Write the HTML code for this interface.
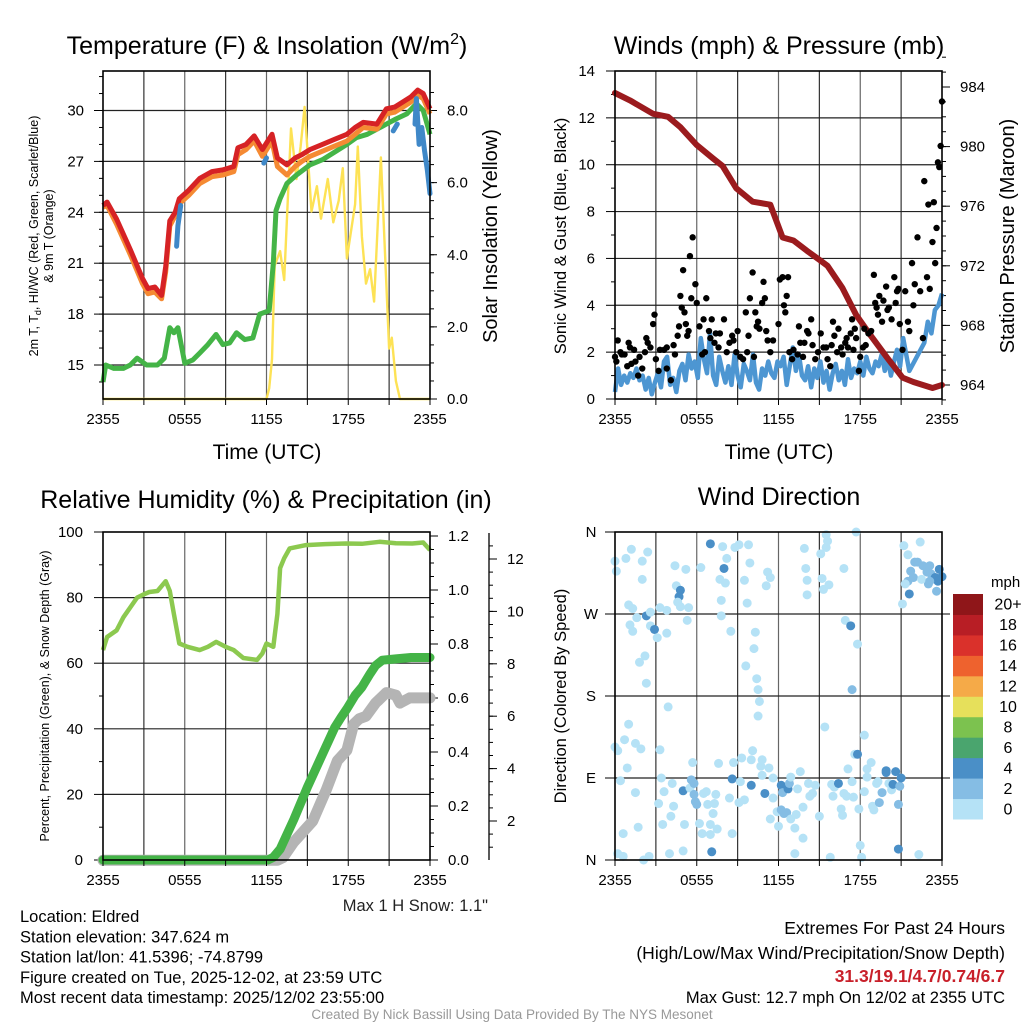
<!DOCTYPE html>
<html><head><meta charset="utf-8"><style>
html,body{margin:0;padding:0;background:#fff;}
svg{display:block;font-family:"Liberation Sans",sans-serif;}
</style></head><body>
<svg id="c" width="1024" height="1024" viewBox="0 0 1024 1024"></svg>
<script>
// ---------- DATA ----------
const tempHours=[0,0.3,1,2,2.9,3.3,3.8,4.3,4.6,4.9,5.3,5.6,6.3,7.1,8,8.8,9.6,9.9,10.5,11.1,11.7,12.4,12.8,13.5,14.1,14.6,15.2,16.1,17,17.9,18.5,19.1,20.1,20.8,21.4,22,22.6,23.1,23.5,24];
const tempRed=[24.4,24.6,23.6,21.8,20.1,19.5,19.6,19.1,20.8,23.5,24.0,24.8,25.3,26.0,26.4,26.5,26.7,27.8,28.0,28.5,27.7,28.6,27.2,26.8,27.2,27.4,27.7,28.0,28.3,28.6,29.0,29.3,29.2,30.1,30.2,30.5,30.8,31.2,31.0,30.1];
const tempOrange=[24.3,24.4,23.3,21.5,19.8,19.2,19.3,18.9,20.5,23.2,23.8,24.5,25.0,25.7,26.1,26.2,26.4,27.4,27.7,28.2,27.3,28.2,26.7,26.2,26.7,27.0,27.3,27.6,27.9,28.2,28.6,29.0,28.9,29.8,29.9,30.2,30.5,30.9,30.7,29.8];
const dewHours=[0,0.2,0.8,1.5,2,2.5,3.2,4,4.5,4.9,5.2,5.5,6,6.6,7.1,7.7,8.3,8.8,9.3,9.8,10.4,11,11.5,12.2,12.5,12.7,13,13.5,14.2,15.2,16.1,17.1,17.9,18.6,19.4,20.1,20.8,21.5,22.3,23,23.5,24];
const dewGreen=[14.0,15.0,14.8,14.8,15.0,15.4,15.0,15.0,15.4,17.2,16.9,17.2,15.1,15.3,15.7,16.2,16.8,16.2,16.3,16.9,16.5,16.6,18.0,18.2,21.0,24.1,24.8,25.7,26.2,26.8,27.1,27.6,28.0,28.4,28.6,28.9,29.2,29.5,29.8,30.4,30.0,28.6];
const hiwcSegs=[[[5.4,22.0],[5.5,23.2],[5.7,24.4]],[[11.8,26.9],[12.0,27.2]],[[21.3,28.8],[21.6,29.2]],[[22.9,29.2],[23.0,30.7],[23.2,28.0],[23.4,29.0],[23.6,27.6],[23.8,26.5],[24.0,25.1]]];
const solHours=[0,12,12.2,12.4,12.6,13,13.3,13.8,14.2,14.5,14.8,15.3,15.7,16,16.5,16.9,17.3,17.6,17.9,18.5,18.7,19.0,19.3,19.6,19.9,20.4,21,21.2,21.5,21.8,24];
const solar=[0,0,0.3,1.1,3.7,4.1,3.3,7.5,6.1,7.0,8.1,5.2,5.9,5.0,6.1,4.9,5.5,6.4,3.9,5.4,7.0,4.5,3.2,3.6,2.7,6.7,1.4,1.7,0.5,0,0];

const presHours=[0,1.1,2.8,3.9,4.8,6,7.2,7.9,8.9,10.1,11.4,12.3,13.1,14.1,15,15.6,16.7,17.7,18.7,20,21.1,21.9,23.3,24];
const pressure=[983.6,983.1,982.2,982.0,981.3,980.1,979.2,978.7,977.2,976.3,976.1,973.9,973.7,973.0,972.4,972.0,970.5,968.7,967.4,965.8,964.5,964.2,963.8,964.0];
// quarter-hour sustained wind
const windSust=[0.3,1.3,0.6,1.0,0.7,1.1,0.9,1.3,0.8,1.0,0.4,0.9,0.2,0.7,1.1,0.5,1.6,1.8,0.6,0.9,0.3,1.2,1.5,0.8,1.9,1.3,1.6,0.9,2.6,1.7,1.1,2.8,1.0,0.6,1.8,1.2,0.7,1.4,0.6,1.9,1.0,0.5,1.5,1.2,0.8,1.9,0.7,0.4,1.3,1.0,1.6,1.1,0.9,1.6,1.4,1.8,0.6,1.4,2.2,1.2,1.9,1.0,0.8,1.4,0.5,1.3,0.9,1.6,0.7,1.2,0.4,1.1,1.5,0.8,1.2,0.6,1.7,0.9,1.3,1.1,1.6,1.0,1.8,1.3,1.1,1.6,1.4,1.9,1.2,1.7,1.0,1.6,2.1,1.4,2.6,1.9,1.2];
const windSust2=[2.4,3.3,2.8,3.8,4.0,4.5];
const gustHours=[0,0.2,0.5,0.7,1.0,1.1,1.2,1.5,1.7,2.0,2.3,2.4,2.6,2.8,2.9,3.2,3.3,3.8,3.8,4.1,4.4,4.6,4.8,4.9,5.0,5.1,5.2,5.3,5.5,5.6,5.7,5.9,6.0,6.2,6.4,6.5,6.7,6.9,7.1,7.3,7.4,7.7,8.0,8.2,8.4,8.6,8.7,8.9,9.2,9.4,9.6,9.8,9.9,10.1,10.2,10.3,10.5,10.6,10.8,10.9,11.0,11.1,11.2,11.6,12.0,12.1,12.3,12.4,12.5,12.6,12.7,12.8,13.1,13.4,13.5,13.6,13.8,14.1,14.2,14.4,14.5,14.7,15.1,15.3,15.5,15.6,15.8,16.0,16.1,16.4,16.6,16.7,16.9,17.1,17.3,17.4,17.6,17.7,17.9,18.0,18.2,18.4,18.6,18.8,19.0,19.1,19.3,19.4,19.6,19.7,19.9,20.1,20.3,20.5,20.6,20.8,20.9,21.1,21.3,21.5,21.6,21.8,22.0,22.2,22.4,22.6,22.7,22.9,23.0,23.1,23.3,23.4,23.5,23.6,23.7,23.8,23.9,24.0,0.1,0.4,0.9,1.4,1.8,2.2,3.0,3.6,4.3,4.7,5.4,6.6,7.0,7.6,9.0,9.7,10.4,11.4,13.0,13.9,14.9,15.9,16.3,17.0,17.5,18.3,19.2,20.0,20.7,21.9];
const gusts=[1.8,2.5,1.9,1.9,2.4,2.2,1.5,1.6,1.0,1.3,2.6,2.4,2.2,3.2,3.6,1.2,2.1,2.2,1.3,0.8,1.9,2.7,4.4,3.9,5.5,3.7,3.2,2.7,6.1,4.3,6.9,4.9,4.1,3.1,1.9,3.4,4.3,2.9,3.4,2.4,2.8,2.8,3.4,2.0,2.4,2.7,2.5,2.0,1.8,1.7,3.7,2.7,4.3,5.4,1.8,3.7,3.3,3.0,4.1,5.0,4.3,2.9,2.5,2.5,3.2,5.1,5.2,4.0,3.7,4.4,5.2,2.0,2.1,1.9,3.1,2.4,1.8,2.9,2.8,3.4,2.3,1.7,2.8,2.2,2.2,1.7,1.4,3.3,2.7,3.0,2.2,1.9,2.4,2.2,2.8,3.4,3.0,2.6,1.2,1.8,2.2,2.3,2.8,2.9,5.3,4.1,3.6,4.4,3.3,4.2,4.8,3.9,3.4,5.2,4.1,4.7,3.2,2.1,4.6,3.3,2.9,5.8,4.9,6.9,4.6,2.6,9.3,5.2,8.3,4.7,6.7,8.4,5.8,7.3,10.1,9.9,10.8,12.7,1.6,2.0,1.4,2.1,1.8,2.0,1.7,2.1,2.3,3.1,2.9,2.0,2.6,2.2,2.9,2.0,3.1,2.0,1.7,2.4,2.0,2.3,2.0,2.6,2.1,3.0,3.9,3.8,4.6,4.0];

const rhHours=[0,0.3,1,1.5,2,2.5,3,3.4,4,4.6,4.9,5.2,5.6,6.2,7.1,7.7,8.3,9,9.6,10.3,11.3,11.7,12,12.5,12.8,13,13.3,13.7,14.9,16.3,17.8,19,20.3,21.5,22.7,23.5,24];
const rh=[64,68,70,74,77,80,81,81.7,82,85,82,75,66,65,64,65,66.5,65,64,61.6,61,63,66,65,75,89,92,95,96,96.3,96.5,96.4,97,96.6,96.5,96.8,94.5];
const precHours=[0,12.1,12.5,13,14,15,16,17,17.5,17.9,18.5,19,19.6,20,20.5,21.5,22.6,24];
const precip=[0,0,0.01,0.04,0.15,0.27,0.38,0.49,0.53,0.56,0.61,0.64,0.69,0.72,0.74,0.745,0.75,0.75];
const snowHours=[0,12.8,13.2,14,15.4,16.4,17.2,17.9,18.4,18.8,19.3,20,20.8,21.5,21.8,22.5,24];
const snow=[0.5,0.5,0.6,1.2,2.0,3.2,4.3,4.7,5.7,5.9,6.0,6.5,6.9,6.8,6.5,6.7,6.7];

const dirHours=[0,0.1,0.8,1.2,2.0,2.0,2.4,1.0,1.3,1.6,1.1,1.3,2.3,2.6,2.6,2.9,3.1,2.2,1.8,2.3,3.3,3.8,3.8,4.4,4.5,4.8,4.7,4.6,4.8,5.4,5.3,5.2,6.3,7.0,7.9,8.8,9.1,9.8,8.2,8.0,7.7,8.1,7.8,7.8,8.5,9.9,9.5,9.7,10.3,10.2,9.6,10.4,10.5,10.6,10.5,11.2,11.4,11.1,13.9,14.0,14.1,14.1,15.1,15.5,15.5,15.6,15.2,15.3,15.7,16.8,17.7,16.9,17.3,17.8,17.4,15.4,18.3,17.6,
21.2,22.4,21.5,22.0,22.2,21.7,21.9,21.5,21.3,21.6,21.1,22.6,22.9,23.1,23.2,23.0,23.5,23.7,23.8,24.0,23.6,22.5,23.1,
0,0.2,0.4,0.6,0.2,0.6,0.9,0.7,1.0,1.5,1.5,1.9,1.7,2.1,2.5,3.3,3.4,3.9,3.2,3.5,3.6,4.1,4.3,4.0,4.2,5.0,5.0,5.1,5.5,5.7,5.6,5.8,5.8,5.9,6.0,6.2,6.4,6.5,6.7,6.8,7.0,7.0,7.1,7.3,7.2,7.5,7.4,7.6,8.4,8.6,8.6,8.7,9.3,9.2,9.1,9.5,10.0,10.0,10.1,10.7,10.8,10.8,11.0,11.3,11.6,11.6,11.9,11.4,12.0,12.2,12.3,12.7,12.8,12.2,12.4,12.6,12.9,12.9,13.2,13.2,13.3,13.4,13.6,13.8,13.8,14.2,14.3,14.5,14.7,15.0,15.8,15.9,16.1,16.0,16.4,16.6,16.7,16.8,17.0,17.1,17.4,17.5,17.8,17.9,18.0,18.1,18.3,18.5,18.8,18.5,18.9,19.0,19.2,19.3,19.6,19.4,19.9,19.9,20.1,20.3,20.4,20.6,20.9,21.0,20.8,20.8,22.3];
const dirDeg=[328,317,331,341,328,308,338,280,276,266,258,251,268,272,257,253,244,224,217,194,277,274,249,323,301,296,289,283,278,277,263,319,321,347,344,343,346,346,331,320,308,304,285,268,251,326,307,282,250,232,213,199,187,174,158,316,310,301,342,320,307,291,336,343,357,350,309,297,302,320,360,263,257,237,187,146,137,116,
345,349,335,327,327,317,310,306,303,292,281,323,316,323,314,303,310,306,319,311,295,308,306,
124,120,87,29,7,4,101,132,149,74,128,122,36,0,4,121,90,168,62,39,75,48,59,7,84,76,10,39,79,107,88,84,72,64,61,40,29,73,75,61,39,28,9,62,51,34,72,106,68,29,89,107,112,86,63,66,82,110,120,103,110,93,73,101,90,68,53,45,37,82,74,78,84,55,51,52,91,45,35,7,50,78,97,58,24,84,70,73,82,48,3,83,80,70,84,56,49,73,70,100,86,69,116,56,16,3,75,91,107,100,59,55,84,86,74,63,98,96,84,77,83,97,81,90,61,12,6,91];
const dirSpeed=[1,1,1,1,1,1,1,1,1,1,1,1,4.2,1,1,4.2,1,1,1,1,1,1,1,1,1,4.2,4.2,1,1,1,1,1,1,4.2,1,1,1,1,1,4.2,1,1,1,1,1,1,1,1,1,1,1,1,1,1,1,1,1,1,1,1,1,1,1,1,1,1,1,1,1,1,1,1,4.2,1,3,1,1,1,
1,1,1,3,3,3,3,3,1,4.2,1,3,3,3,3,3,4.2,4.2,4.2,4.2,3,1,3,
1,1,1,1,1,1,1,1,1,1,1,1,1,1,1,1,1,1,1,1,1,1,1,1,1,4.2,1,1,1,1,3,3,3,3,3,1,1,1,1,1,1,1,4.2,1,1,1,1,1,1,1,4.2,1,1,1,1,1,4.2,1,1,1,1,1,4.2,1,1,1,1,1,1,4.2,3,4.2,3,3,3,3,1,1,1,1,1,1,1,1,1,1,1,1,1,1,1,1,1,1,4.2,1,1,1,1,1,1,1,4.2,1,1,1,1,1,1,1,1,1,1,1,3,3,4.2,4.2,1,1,4.2,4.2,3,4.2,3,4.2,1,1,1,1];
const cbLabels=["0","2","4","6","8","10","12","14","16","18","20+"];
const cbColors=["#b5e2f6","#85bde4","#4a8fc7","#4aa56e","#7cc24f","#e6e05b","#f5aa48","#ee622e","#da312b","#b81e25","#8f1619"];

// ---------- HELPERS ----------
const NS="http://www.w3.org/2000/svg";
const svg=document.getElementById('c');
function el(tag,attrs,parent,text){const e=document.createElementNS(NS,tag);for(const k in attrs)e.setAttribute(k,attrs[k]);if(text!==undefined)e.textContent=text;(parent||svg).appendChild(e);return e;}
function lin(d0,d1,r0,r1){return v=>r0+(v-d0)*(r1-r0)/(d1-d0);}
function pathD(xs,ys,fx,fy){return xs.map((h,i)=>(i?'L':'M')+fx(h).toFixed(1)+' '+fy(ys[i]).toFixed(1)).join(' ');}
const xTickLbl=["2355","0555","1155","1755","2355"];
function spd2col(s){let i=Math.min(10,Math.floor(s/2));return cbColors[i];}
const TF=15;

function panelFrame(name,x0,x1,y0,y1,hGrid,fy){
  const g=el('g',{},svg);
  
  
  for(let k=1;k<8;k++){const x=x0+(x1-x0)*k/8;el('line',{x1:x,x2:x,y1:y0,y2:y1,stroke:k%2?'#333':'#666','stroke-width':1.2},g);}
  hGrid.forEach(v=>{const y=fy(v);el('line',{x1:x0,x2:x1,y1:y,y2:y,stroke:'#222','stroke-width':1.2},g);});
  return g;
}
function frameBox(name,x0,x1,y0,y1){
  const r=el('rect',{x:x0,y:y0,width:x1-x0,height:y1-y0,fill:'none',stroke:'#000','stroke-width':1.6});
  
  
}
function xAxis(name,x0,x1,y1){
  const g=el('g',{},svg);
  
  
  for(let k=0;k<=8;k++){const x=x0+(x1-x0)*k/8;el('line',{x1:x,x2:x,y1:y1,y2:y1+6,stroke:'#000'},g);}
  xTickLbl.forEach((t,k)=>{const x=x0+(x1-x0)*k/4;el('text',{x:x,y:y1+25,'font-size':TF,'text-anchor':'middle'},g,t);});
}
function title(name,x,y,txt,size){const t=el('text',{x:x,y:y,'font-size':size||25,'text-anchor':'middle'},svg,txt);return t;}
function vtitle(name,x,y,txt,size){const t=el('text',{x:x,y:y,'font-size':size,'text-anchor':'middle',transform:`rotate(-90 ${x} ${y})`},svg,txt);return t;}

// ---------- PANEL 1 ----------
{
const x0=103,x1=430,y0=71,y1=399;
const fx=lin(0,24,x0,x1), fy=lin(15,30,365,110.5), fs=lin(0,8,399,110.5);
panelFrame('temp-panel',x0,x1,y0,y1,[15,18,21,24,27,30],fy);
const gl=el('g',{});
[15,18,21,24,27,30].forEach(v=>{el('line',{x1:x0-9,x2:x0,y1:fy(v),y2:fy(v),stroke:'#000'},gl);el('text',{x:x0-19,y:fy(v)+5,'font-size':TF,'text-anchor':'end'},gl,String(v));});
for(let v=14;v<=32;v++){el('line',{x1:x0-4,x2:x0,y1:fy(v),y2:fy(v),stroke:'#000'},gl);}
const gr=el('g',{});
[0,2,4,6,8].forEach(v=>{el('line',{x1:x1,x2:x1+7,y1:fs(v),y2:fs(v),stroke:'#000'},gr);el('text',{x:x1+17,y:fs(v)+5,'font-size':TF},gr,v.toFixed(1));});
for(let v=0.5;v<8.6;v+=0.5){el('line',{x1:x1,x2:x1+4,y1:fs(v),y2:fs(v),stroke:'#000'},gr);}
const sol=el('path',{d:pathD(solHours,solar,fx,fs),fill:'none',stroke:'#fde255','stroke-width':2.4,'stroke-linejoin':'round'});

const dg=el('path',{d:pathD(dewHours,dewGreen,fx,fy),fill:'none',stroke:'#44b447','stroke-width':5,'stroke-linejoin':'round'});

const or=el('path',{d:pathD(tempHours,tempOrange,fx,fy),fill:'none',stroke:'#f58a33','stroke-width':5,'stroke-linejoin':'round'});

const rd=el('path',{d:pathD(tempHours,tempRed,fx,fy),fill:'none',stroke:'#d62225','stroke-width':5,'stroke-linejoin':'round'});

hiwcSegs.forEach(seg=>{const p=el('path',{d:pathD(seg.map(s=>s[0]),seg.map(s=>s[1]),fx,fy),fill:'none',stroke:'#3f88c8','stroke-width':5,'stroke-linejoin':'round','stroke-linecap':'round'});});
frameBox('temp-panel',x0,x1,y0,y1);xAxis('temp-panel',x0,x1,y1);
const t=title('temp-panel-title',267,54,'Temperature (F) & Insolation (W/m');el('tspan',{dy:-10,'font-size':16},t,'2');el('tspan',{dy:10},t,')');
title('temp-x-axis-title',267,459,'Time (UTC)',21);
const yl=el('text',{x:38,y:236,'font-size':12.5,'text-anchor':'middle',transform:'rotate(-90 38 236)'});

yl.appendChild(document.createTextNode('2m T, T'));el('tspan',{dy:3,'font-size':9},yl,'d');el('tspan',{dy:-3},yl,', HI/WC (Red, Green, Scarlet/Blue)');
vtitle('temp-y-axis-title-2',53,236,'& 9m T (Orange)',12.5);
vtitle('insolation-axis-title',497,236,'Solar Insolation (Yellow)',20);
}
// ---------- PANEL 2 ----------
{
const x0=615,x1=942,y0=71,y1=399;
const fx=lin(0,24,x0,x1), fy=lin(0,14,399,71), fp=lin(964,984,385,87);
panelFrame('wind-panel',x0,x1,y0,y1,[2,4,6,8,10,12],fy);
const gl=el('g',{});
[0,2,4,6,8,10,12,14].forEach(v=>{el('line',{x1:x0-9,x2:x0,y1:fy(v),y2:fy(v),stroke:'#000'},gl);el('text',{x:x0-20,y:fy(v)+5,'font-size':TF,'text-anchor':'end'},gl,String(v));});
for(let v=1;v<14;v+=2){el('line',{x1:x0-4,x2:x0,y1:fy(v),y2:fy(v),stroke:'#000'},gl);}
const gr=el('g',{});
[964,968,972,976,980,984].forEach(v=>{el('line',{x1:x1,x2:x1+8,y1:fp(v),y2:fp(v),stroke:'#000'},gr);el('text',{x:x1+18,y:fp(v)+5,'font-size':TF},gr,String(v));});
for(let v=963;v<=986;v++){el('line',{x1:x1,x2:x1+4,y1:fp(v),y2:fp(v),stroke:'#000'},gr);}
const wh=windSust.map((v,i)=>i*0.225);
const wh2=windSust2.map((v,i)=>22.7+i*0.26);
const allH=wh.concat(wh2), allW=windSust.concat(windSust2);
const ws=el('path',{d:pathD(allH,allW,fx,fy),fill:'none',stroke:'#4d96d2','stroke-width':4.5,'stroke-linejoin':'round'});

const pl=el('path',{d:pathD(presHours,pressure,fx,fp),fill:'none',stroke:'#9b1b1e','stroke-width':6,'stroke-linejoin':'round','stroke-linecap':'round'});

const gg=el('g',{});
gustHours.forEach((h,i)=>{const c=el('circle',{cx:fx(h),cy:fy(gusts[i]),r:3.2,fill:'#000'},gg);});
frameBox('wind-panel',x0,x1,y0,y1);xAxis('wind-panel',x0,x1,y1);
title('wind-panel-title',779,54,'Winds (mph) & Pressure (mb)');
title('wind-x-axis-title',779,459,'Time (UTC)',21);
vtitle('wind-y-axis-title',566,236,'Sonic Wind & Gust (Blue, Black)',16.5);
vtitle('pressure-axis-title',1014,236,'Station Pressure (Maroon)',20);
}
// ---------- PANEL 3 ----------
{
const x0=103,x1=430,y0=532,y1=860;
const fx=lin(0,24,x0,x1), fy=lin(0,100,860,532), fp=lin(0,1.2,860,536), fsn=lin(2,12,821,559);
panelFrame('rh-panel',x0,x1,y0,y1,[20,40,60,80],fy);
const gl=el('g',{});
[0,20,40,60,80,100].forEach(v=>{el('line',{x1:x0-9,x2:x0,y1:fy(v),y2:fy(v),stroke:'#000'},gl);el('text',{x:x0-20,y:fy(v)+5,'font-size':TF,'text-anchor':'end'},gl,String(v));});
for(let v=10;v<100;v+=20){el('line',{x1:x0-4,x2:x0,y1:fy(v),y2:fy(v),stroke:'#000'},gl);}
const gr=el('g',{});
[0,0.2,0.4,0.6,0.8,1.0,1.2].forEach(v=>{el('line',{x1:x1,x2:x1+8,y1:fp(v),y2:fp(v),stroke:'#000'},gr);el('text',{x:x1+18,y:fp(v)+5,'font-size':TF},gr,v.toFixed(1));});
for(let v=0.05;v<1.2;v+=0.05){el('line',{x1:x1,x2:x1+4,y1:fp(v),y2:fp(v),stroke:'#000'},gr);}
const gs=el('g',{});
el('line',{x1:489,x2:489,y1:533,y2:860,stroke:'#000','stroke-width':1.3},gs);
[2,4,6,8,10,12].forEach(v=>{el('line',{x1:489,x2:497,y1:fsn(v),y2:fsn(v),stroke:'#000'},gs);el('text',{x:507,y:fsn(v)+5,'font-size':TF},gs,String(v));});
for(let v=1;v<=13;v+=0.5){if(fsn(v)<860&&fsn(v)>533)el('line',{x1:489,x2:493,y1:fsn(v),y2:fsn(v),stroke:'#000'},gs);}
const sn=el('path',{d:pathD(snowHours,snow,fx,fsn),fill:'none',stroke:'#b4b4b4','stroke-width':11,'stroke-linejoin':'round','stroke-linecap':'round'});

const pr=el('path',{d:pathD(precHours,precip,fx,fp),fill:'none',stroke:'#44b447','stroke-width':9,'stroke-linejoin':'round','stroke-linecap':'round'});

const rl=el('path',{d:pathD(rhHours,rh,fx,fy),fill:'none',stroke:'#8cc94f','stroke-width':4.5,'stroke-linejoin':'round'});

frameBox('rh-panel',x0,x1,y0,y1);xAxis('rh-panel',x0,x1,y1);
title('rh-panel-title',266,508,'Relative Humidity (%) & Precipitation (in)');
vtitle('rh-y-axis-title',49,696,'Percent, Precipitation (Green), & Snow Depth (Gray)',12.5);
const ms=el('text',{x:488,y:911,'font-size':16.5,'text-anchor':'end',fill:'#222'},svg,'Max 1 H Snow: 1.1"');
}
// ---------- PANEL 4 ----------
{
const x0=615,x1=942,y0=532,y1=860;
const fx=lin(0,24,x0,x1), fy=lin(0,360,860,532);
panelFrame('direction-panel',x0,x1,y0,y1,[90,180,270],fy);
const gl=el('g',{});
[[0,'N'],[90,'E'],[180,'S'],[270,'W'],[360,'N']].forEach(([v,t])=>{el('line',{x1:x0-10,x2:x0,y1:fy(v),y2:fy(v),stroke:'#000'},gl);el('text',{x:591,y:fy(v)+5,'font-size':TF,'text-anchor':'middle'},gl,t);});
[90,180,270].forEach(v=>{el('line',{x1:x1,x2:x1+8,y1:fy(v),y2:fy(v),stroke:'#000'},gl);});
const gd=el('g',{});
dirHours.forEach((h,i)=>{const c=el('circle',{cx:fx(h),cy:fy(dirDeg[i]),r:4.5,fill:spd2col(dirSpeed[i])},gd);});
frameBox('direction-panel',x0,x1,y0,y1);xAxis('direction-panel',x0,x1,y1);
title('direction-panel-title',779,505,'Wind Direction');
vtitle('direction-y-axis-title',566,696,'Direction (Colored By Speed)',16.5);
const cb=el('g',{});
const bh=(819-594)/11;
cbColors.forEach((c,i)=>{const y=819-(i+1)*bh;el('rect',{x:953,y:y,width:30,height:bh+0.5,fill:c},cb);el('text',{x:1008,y:y+bh/2+5.5,'font-size':16,'text-anchor':'middle'},cb,cbLabels[i]);});
el('text',{x:991,y:587,'font-size':15},cb,'mph');
}
// ---------- FOOTER ----------
{
const g=el('g',{});
["Location: Eldred","Station elevation: 347.624 m","Station lat/lon: 41.5396; -74.8799","Figure created on Tue, 2025-12-02, at 23:59 UTC","Most recent data timestamp: 2025/12/02 23:55:00"].forEach((t,i)=>el('text',{x:20,y:922+i*20.3,'font-size':16.5},g,t));
const r=el('g',{});
el('text',{x:1005,y:934,'font-size':17.5,'text-anchor':'end'},r,'Extremes For Past 24 Hours');
el('text',{x:1005,y:959,'font-size':17.5,'text-anchor':'end'},r,'(High/Low/Max Wind/Precipitation/Snow Depth)');
el('text',{x:1005,y:982,'font-size':17.5,'text-anchor':'end','font-weight':'bold',fill:'#c8202a'},r,'31.3/19.1/4.7/0.74/6.7');
el('text',{x:1005,y:1003,'font-size':16.5,'text-anchor':'end'},r,'Max Gust: 12.7 mph On 12/02 at 2355 UTC');
const c=el('text',{x:512,y:1019,'font-size':13.5,'text-anchor':'middle',fill:'#999'},svg,'Created By Nick Bassill Using Data Provided By The NYS Mesonet');

}
</script>
</body></html>
